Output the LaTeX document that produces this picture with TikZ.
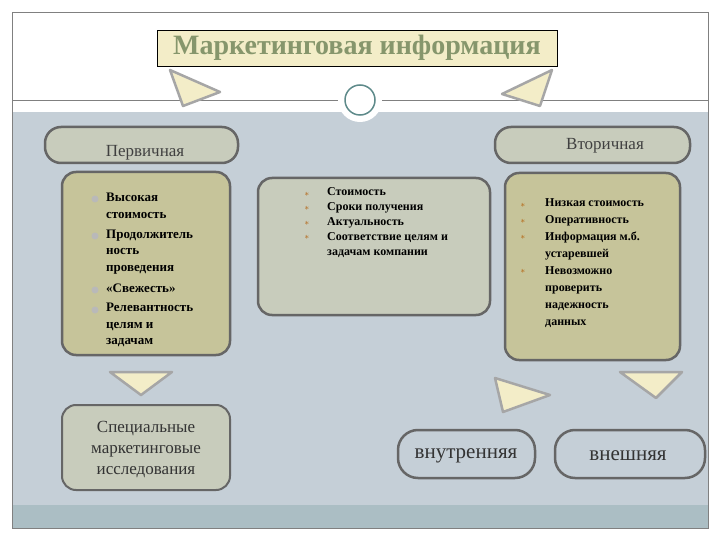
\documentclass[tikz,border=0pt]{standalone}
\usepackage{fontspec}
\setmainfont{Liberation Serif}
\begin{document}
\begin{tikzpicture}[x=1pt,y=-1pt,
 pill/.style={draw=gray!80!black,line width=2.5pt,fill=pillc,rounded corners=16pt},
 box/.style={draw=gray!80!black,line width=2.5pt,rounded corners=14pt},
 tri/.style={draw=gray!70,line width=2.5pt,fill=titlec,line join=round},
 itm/.style={align=left,anchor=west,inner sep=0}]
\definecolor{titlec}{HTML}{F3EDC8}
\definecolor{titletext}{HTML}{86966C}
\definecolor{pillc}{HTML}{C8CCBC}
\definecolor{olivec}{HTML}{C6C49A}
\definecolor{bgc}{HTML}{C5CFD7}
\definecolor{tealc}{HTML}{5E8A8A}
\useasboundingbox (0,0) rectangle (720,540);
\fill[white] (0,0) rectangle (720,540);
\fill[bgc] (12,112) rectangle (708,528);
\fill[bgc!75!tealc] (12,505) rectangle (708,528);
\draw[gray] (12,12) rectangle (708,528);
\draw[gray] (12,100) -- (708,100);
\node[draw=black,fill=titlec,minimum width=400,minimum height=36,inner sep=0,
 font=\bfseries\fontsize{28}{30}\selectfont,text=titletext] (t) at (357,48) {Маркетинговая информация};
\node[circle,draw=white,line width=4pt,fill=white,minimum size=40] (c0) at (360,100) {};
\node[circle,draw=tealc,line width=1.5pt,minimum size=30] (c) at (360,100) {};
\draw[tri] (170,70) -- (220,92) -- (183,106) -- cycle;
\draw[tri] (552,70) -- (502,94) -- (540,106) -- cycle;
\draw[pill] (45,127) rectangle (238,163);
\node[font=\fontsize{17}{19}\selectfont,text=gray!50!black] (p) at (145,153) {Первичная};
\draw[pill] (495,127) rectangle (690,163);
\node[font=\fontsize{17}{19}\selectfont,text=gray!50!black] (v) at (605,146) {Вторичная};
\draw[box,fill=olivec] (62,172) rectangle (230,355);
\node[itm,font=\bfseries\fontsize{13}{16.8}\selectfont] (l1) at (106,270) {Высокая\\стоимость\\[3pt]Продолжитель\\ность\\проведения\\[4pt]«Свежесть»\\[2pt]Релевантность\\целям и\\задачам};
\foreach \y in {199,236,290,310} \fill[gray!55] (95,\y) circle (3.5);
\draw[box,fill=pillc] (258,178) rectangle (490,315);
\node[itm,font=\bfseries\fontsize{12}{15}\selectfont] (m1) at (327,223) {Стоимость\\Сроки получения\\Актуальность\\Соответствие целям и\\задачам компании};
\foreach \y in {194,208,223,237} \node[text=orange!70!black,font=\small] at (307,\y) {$\ast$};
\draw[box,fill=olivec] (505,173) rectangle (680,360);
\node[itm,font=\bfseries\fontsize{12}{17}\selectfont] (r1) at (545,263) {Низкая стоимость\\Оперативность\\Информация м.б.\\устаревшей\\Невозможно\\проверить\\надежность\\данных};
\foreach \y in {205,221,237,271} \node[text=orange!70!black,font=\small] at (523,\y) {$\ast$};
\draw[tri] (110,372) -- (172,372) -- (141,395) -- cycle;
\draw[box,fill=pillc,line width=2pt] (62,405) rectangle (230,490);
\node[align=center,font=\fontsize{17}{21}\selectfont,text=gray!40!black] (s) at (146,450) {Специальные\\маркетинговые\\исследования};
\draw[tri] (495,378) -- (550,395) -- (503,412) -- cycle;
\draw[tri] (620,372) -- (682,372) -- (656,398) -- cycle;
\draw[pill,rounded corners=20pt,fill=bgc] (398,430) rectangle (535,478);
\node[font=\fontsize{21}{23}\selectfont,text=gray!40!black] (in) at (466,456) {внутренняя};
\draw[pill,rounded corners=20pt,fill=bgc] (555,430) rectangle (705,478);
\node[font=\fontsize{21}{23}\selectfont,text=gray!40!black] (ex) at (628,456) {внешняя};
\end{tikzpicture}
\end{document}
